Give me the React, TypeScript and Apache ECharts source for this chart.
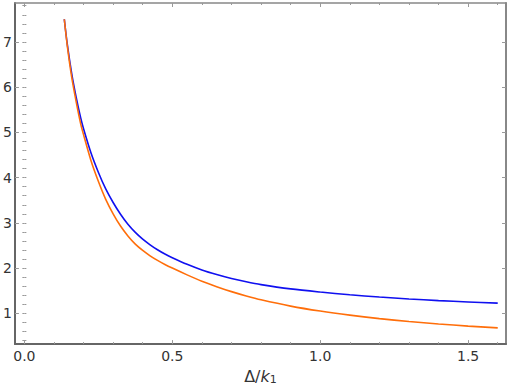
import React, { useEffect, useRef } from "react";
import * as echarts from "echarts";

const xValues = [0.135, 0.145, 0.16, 0.175, 0.19, 0.2, 0.225, 0.25, 0.275, 0.3, 0.325, 0.35, 0.375, 0.4, 0.425, 0.45, 0.475, 0.5, 0.55, 0.6, 0.65, 0.7, 0.75, 0.8, 0.9, 1.0, 1.1, 1.2, 1.3, 1.4, 1.5, 1.6];
const blueValues = [7.5, 6.95, 6.3, 5.78, 5.33, 5.08, 4.55, 4.12, 3.75, 3.45, 3.19, 2.97, 2.79, 2.64, 2.515, 2.405, 2.31, 2.23, 2.085, 1.96, 1.858, 1.77, 1.697, 1.635, 1.54, 1.47, 1.41, 1.36, 1.318, 1.282, 1.252, 1.226];
const orangeValues = [7.5, 6.92, 6.22, 5.68, 5.2, 4.95, 4.38, 3.92, 3.52, 3.2, 2.93, 2.71, 2.53, 2.39, 2.272, 2.17, 2.08, 2.0, 1.85, 1.71, 1.59, 1.48, 1.385, 1.3, 1.16, 1.05, 0.96, 0.884, 0.82, 0.765, 0.718, 0.678];

const xLabelTicks = [0, 0.5, 1.0, 1.5];
const xMinorTicks = [0, 0.1, 0.2, 0.3, 0.4, 0.5, 0.6, 0.7, 0.8, 0.9, 1.0, 1.1, 1.2, 1.3, 1.4, 1.5, 1.6];
const yLabelTicks = [1, 2, 3, 4, 5, 6, 7];
const yMinorTicks = [0.4, 0.6, 0.8, 1, 1.2, 1.4, 1.6, 1.8, 2, 2.2, 2.4, 2.6, 2.8, 3, 3.2, 3.4, 3.6, 3.8, 4, 4.2, 4.4, 4.6, 4.8, 5, 5.2, 5.4, 5.6, 5.8, 6, 6.2, 6.4, 6.6, 6.8, 7, 7.2, 7.4, 7.6, 7.8];

const X_MIN = -0.032;
const X_MAX = 1.628;
const Y_MIN = 0.32;
const Y_MAX = 7.86;

const FONT = "DejaVu Sans";

export default function App() {
  const ref = useRef<HTMLDivElement>(null);
  useEffect(() => {
    if (!ref.current) return;
    const chart = echarts.init(ref.current, null, { renderer: "svg" });
    const tickStyle = { color: "#999", width: 1 };
    const baseX = (extra: any) => ({
      type: "value",
      min: X_MIN,
      max: X_MAX,
      splitLine: { show: false },
      axisLabel: { show: false },
      axisLine: { show: false },
      ...extra,
    });
    const baseY = (extra: any) => ({
      type: "value",
      min: Y_MIN,
      max: Y_MAX,
      splitLine: { show: false },
      axisLabel: { show: false },
      axisLine: { show: false },
      ...extra,
    });
    chart.setOption({
      animation: false,
      backgroundColor: "#fff",
      grid: { left: 13, right: 4, top: 3, bottom: 42, containLabel: false },
      xAxis: [
        baseX({
          position: "bottom",
          axisLine: { show: true, onZero: false, lineStyle: { color: "#666", width: 2 } },
          axisTick: { show: true, inside: true, length: 4, customValues: xLabelTicks, lineStyle: tickStyle },
          axisLabel: {
            show: true,
            customValues: xLabelTicks,
            formatter: (v: number) => v.toFixed(1),
            fontFamily: FONT,
            fontSize: 14,
            color: "#333",
            margin: 5,
          },
          name: "Δ/{i|k}{s|1}",
          nameLocation: "middle",
          nameGap: 20,
          nameTextStyle: {
            fontFamily: FONT,
            fontSize: 16,
            color: "#333",
            rich: {
              i: { fontFamily: FONT, fontStyle: "italic", fontSize: 16, color: "#333" },
              s: { fontFamily: FONT, fontSize: 11, color: "#333", verticalAlign: "bottom", padding: [7, 0, 0, 0] },
            },
          },
        }),
        baseX({
          position: "bottom",
          axisTick: { show: true, inside: true, length: 2, customValues: xMinorTicks, lineStyle: tickStyle },
        }),
        baseX({
          position: "top",
          axisLine: { show: true, onZero: false, lineStyle: { color: "#888", width: 1.5 } },
          axisTick: { show: true, inside: true, length: 4, customValues: xLabelTicks, lineStyle: tickStyle },
        }),
        baseX({
          position: "top",
          axisTick: { show: true, inside: true, length: 2, customValues: xMinorTicks, lineStyle: tickStyle },
        }),
      ],
      yAxis: [
        baseY({
          position: "left",
          axisLine: { show: true, onZero: false, lineStyle: { color: "#666", width: 2 } },
          axisTick: { show: true, inside: true, length: 4, customValues: yLabelTicks, lineStyle: tickStyle },
          axisLabel: {
            show: true,
            customValues: yLabelTicks,
            formatter: (v: number) => String(Math.round(v)),
            fontFamily: FONT,
            fontSize: 14,
            color: "#333",
            margin: 3,
          },
        }),
        baseY({
          position: "left",
          axisTick: { show: true, inside: true, length: 2, customValues: yMinorTicks, lineStyle: tickStyle },
        }),
        baseY({
          position: "right",
          axisLine: { show: true, onZero: false, lineStyle: { color: "#888", width: 2 } },
          axisTick: { show: true, inside: true, length: 4, customValues: yLabelTicks, lineStyle: tickStyle },
        }),
        baseY({
          position: "right",
          axisTick: { show: true, inside: true, length: 2, customValues: yMinorTicks, lineStyle: tickStyle },
        }),
      ],
      series: [
        {
          type: "line",
          xAxisIndex: 0,
          yAxisIndex: 0,
          data: xValues.map((x, i) => [x, orangeValues[i]]),
          showSymbol: false,
          smooth: 0.3,
          lineStyle: { color: "#ff6e0a", width: 1.6 },
          z: 3,
        },
        {
          type: "line",
          xAxisIndex: 0,
          yAxisIndex: 0,
          data: xValues.map((x, i) => [x, blueValues[i]]),
          showSymbol: false,
          smooth: 0.3,
          lineStyle: { color: "#1010f0", width: 1.6 },
          z: 2,
        },
      ],
    });
    return () => chart.dispose();
  }, []);
  return (
    <div
      ref={ref}
      style={{ position: "fixed", left: 0, top: 0, width: 510, height: 390 }}
    />
  );
}
